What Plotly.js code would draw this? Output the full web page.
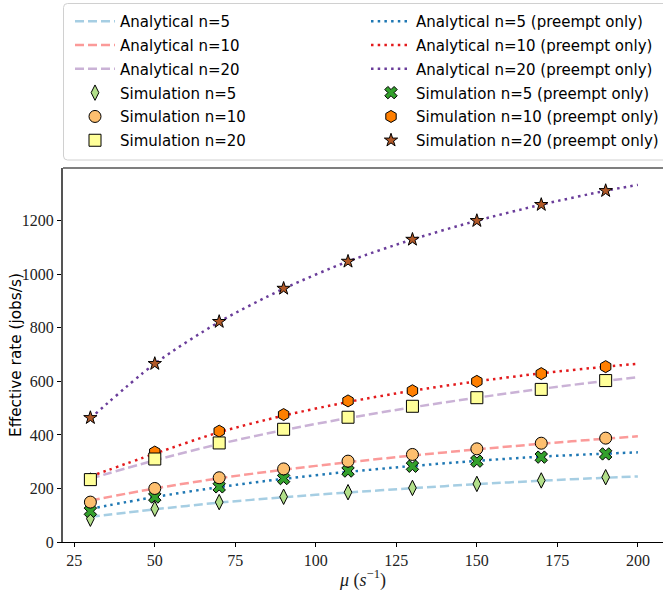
<!DOCTYPE html>
<html>
<head>
<meta charset="utf-8">
<script src="https://cdn.plot.ly/plotly-3.0.1.min.js"></script>
<style>
  html, body { margin: 0; padding: 0; background: #fff; }
  #chart { width: 663px; height: 591px; }
</style>
</head>
<body>
<div id="chart"></div>
<script>
// ---- data ----
const muSim = [30, 50, 70, 90, 110, 130, 150, 170, 190];
const muAna = [30, 50, 70, 90, 110, 130, 150, 170, 190, 200];

const anaN5  = [94, 122, 147, 167, 185, 201, 216, 229, 240, 245];
const anaN10 = [155, 200, 238, 270, 298, 323, 346, 367, 386, 395];
const anaN20 = [237, 305, 366, 418, 463, 503, 539, 572, 602, 616];
const anaP5  = [124, 168, 205, 236, 262, 284, 303, 319, 330, 335];
const anaP10 = [245, 330, 410, 472, 523, 565, 600, 630, 655, 666];
const anaP20 = [462, 666, 822, 946, 1048, 1130, 1200, 1260, 1312, 1334];

const simN5  = [87, 124, 149, 169, 186, 202, 217, 230, 242];
const simN10 = [149, 200, 240, 273, 302, 327, 348, 369, 388];
const simN20 = [233, 310, 370, 421, 466, 507, 539, 570, 603];
const simP5  = [115, 168, 206, 237, 265, 283, 302, 317, 329];
const simP10 = [235, 336, 414, 476, 527, 565, 600, 629, 655];
const simP20 = [464, 666, 823, 947, 1048, 1130, 1200, 1260, 1312];

const xTicks = [25, 50, 75, 100, 125, 150, 175, 200];
const yTicks = [0, 200, 400, 600, 800, 1000, 1200];

// ---- styles ----
const DASH = '9px,4px';
const DOT = '2.5px,4.2px';
const LW = 2.5;

function anaTrace(name, y, color, dash, legend) {
  return {
    x: muAna, y: y, name: name, type: 'scatter', mode: 'lines',
    line: {color: color, width: LW, dash: dash, shape: 'spline', smoothing: 0.8},
    legend: legend, legendgroup: name
  };
}
function simTrace(name, y, fill, symbol, size, legend) {
  return {
    x: muSim, y: y, name: name, type: 'scatter', mode: 'markers',
    marker: {color: fill, symbol: symbol, size: size, line: {color: '#000', width: 1}},
    legend: legend, legendgroup: name
  };
}

const traces = [
  anaTrace('Analytical n=5', anaN5, '#a6cee3', DASH, 'legend'),
  anaTrace('Analytical n=10', anaN10, '#fb9a99', DASH, 'legend'),
  anaTrace('Analytical n=20', anaN20, '#cab2d6', DASH, 'legend'),
  anaTrace('Analytical n=5 (preempt only)', anaP5, '#1f78b4', DOT, 'legend2'),
  anaTrace('Analytical n=10 (preempt only)', anaP10, '#e31a1c', DOT, 'legend2'),
  anaTrace('Analytical n=20 (preempt only)', anaP20, '#6a3d9a', DOT, 'legend2'),
  simTrace('Simulation n=5', simN5, '#b2df8a', 'diamond-tall', 11, 'legend'),
  simTrace('Simulation n=5 (preempt only)', simP5, '#33a02c', 'x', 11, 'legend2'),
  simTrace('Simulation n=10', simN10, '#fdbf6f', 'circle', 12, 'legend'),
  simTrace('Simulation n=10 (preempt only)', simP10, '#ff7f00', 'hexagon', 12, 'legend2'),
  simTrace('Simulation n=20', simN20, '#ffff99', 'square', 12, 'legend'),
  simTrace('Simulation n=20 (preempt only)', simP20, '#b15928', 'star', 10, 'legend2')
];
// legend order within each column
const rank = {
  'Analytical n=5': 1, 'Analytical n=10': 2, 'Analytical n=20': 3,
  'Simulation n=5': 4, 'Simulation n=10': 5, 'Simulation n=20': 6
};
traces.forEach(t => {
  const base = t.name.replace(' (preempt only)', '');
  t.legendrank = rank[base];
});

// plot area: left 63, top 168, right 663, bottom 542
const W = 663, H = 591, ML = 63, MR = 0, MT = 168, MB = 49;
const PW = W - ML - MR, PH = H - MT - MB;
function px2x(p) { return (p - ML) / PW; }
function py2y(p) { return (H - MB - p) / PH; }

// rounded legend frame
const bx0 = px2x(63.5), bx1 = px2x(670), by0 = py2y(160), by1 = py2y(3.5);
const rx = 4 / PW, ry = 4 / PH;
const framePath =
  `M ${bx0 + rx},${by1} L ${bx1},${by1} L ${bx1},${by0} L ${bx0 + rx},${by0} ` +
  `Q ${bx0},${by0} ${bx0},${by0 + ry} L ${bx0},${by1 - ry} Q ${bx0},${by1} ${bx0 + rx},${by1} Z`;

const sansFam = 'DejaVu Sans, Verdana, sans-serif';
const legendFont = {family: sansFam, size: 15, color: '#000'};
const tickFont = {family: 'Liberation Serif, Times New Roman, serif', size: 16, color: '#222'};

const legendCommon = {
  xanchor: 'left', yanchor: 'top', xref: 'paper', yref: 'paper',
  bgcolor: 'rgba(0,0,0,0)', borderwidth: 0,
  font: legendFont, itemwidth: 40, tracegroupgap: 1.3, traceorder: 'grouped'
};

const layout = {
  width: W, height: H,
  margin: {l: ML, r: MR, t: MT, b: MB, pad: 0, autoexpand: false},
  paper_bgcolor: '#fff', plot_bgcolor: '#fff',
  showlegend: true,
  xaxis: {
    range: [21.5, 207.8],
    tickvals: xTicks, ticktext: xTicks.map(String),
    ticks: 'outside', ticklen: 4, tickwidth: 1, tickcolor: '#000',
    showgrid: false, zeroline: false,
    showline: true, linecolor: '#000', linewidth: 1, mirror: false,
    tickfont: tickFont,
    title: {text: '<i>μ</i> (<i>s</i><sup>−1</sup>)', font: {family: 'Liberation Serif, serif', size: 18, color: '#222'}},
    automargin: false
  },
  yaxis: {
    range: [0, 1397],
    tickvals: yTicks, ticktext: yTicks.map(String),
    ticks: 'outside', ticklen: 4, tickwidth: 1, tickcolor: '#000',
    showgrid: false, zeroline: false,
    showline: true, linecolor: '#555', linewidth: 2,
    tickfont: tickFont,
    automargin: false
  },
  annotations: [
    {text: 'Effective rate (jobs/s)', textangle: -90, showarrow: false,
     xref: 'paper', yref: 'paper', x: px2x(16), y: 0.5, xanchor: 'center', yanchor: 'middle',
     font: {family: sansFam, size: 15.3, color: '#000'}}
  ],
  shapes: [
    {type: 'line', xref: 'paper', yref: 'paper', x0: 0, x1: 1.02, y0: 1, y1: 1,
     line: {color: '#555', width: 1.5}},
    {type: 'path', xref: 'paper', yref: 'paper', path: framePath,
     fillcolor: 'rgba(255,255,255,0.8)', line: {color: '#d0d0d0', width: 1}, layer: 'below'}
  ],
  legend: Object.assign({}, legendCommon, {x: px2x(70), y: py2y(5)}),
  legend2: Object.assign({}, legendCommon, {x: px2x(366), y: py2y(5)})
};

Plotly.newPlot('chart', traces, layout, {displayModeBar: false, staticPlot: true});
</script>
</body>
</html>
